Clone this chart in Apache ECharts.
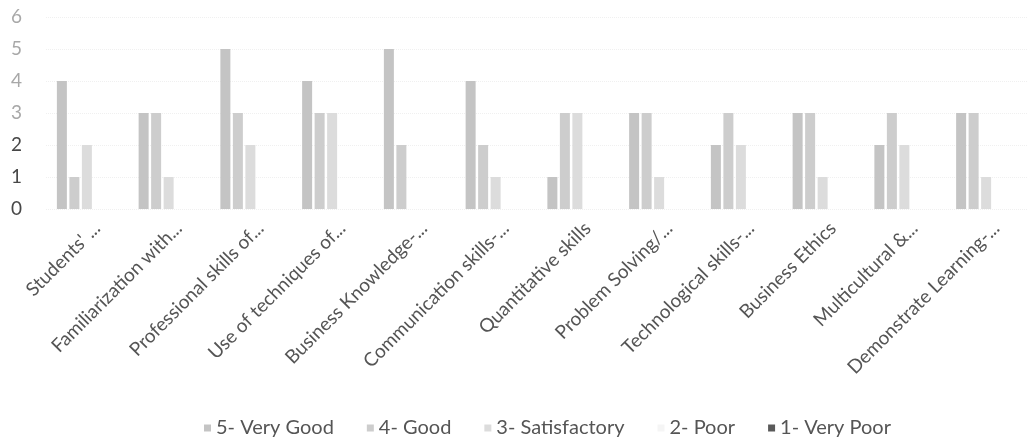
<!DOCTYPE html>
<html>
<head>
<meta charset="utf-8">
<script src="https://cdn.jsdelivr.net/npm/echarts@6/dist/echarts.min.js"></script>
<style>html,body{margin:0;padding:0;background:#fff}#c{width:1027px;height:444px}</style>
</head>
<body>
<div id="c"></div>
<script>
const categories = ["Students' ...", "Familiarization with...", "Professional skills of...", "Use of techniques of...", "Business Knowledge-...", "Communication skills-...", "Quantitative skills", "Problem Solving/...", "Technological skills-...", "Business Ethics", "Multicultural &...", "Demonstrate Learning-..."];
const seriesNames = ["5- Very Good", "4- Good", "3- Satisfactory", "2- Poor", "1- Very Poor"];
const veryGood = [4, 3, 5, 4, 5, 4, 1, 3, 2, 3, 2, 3];
const good = [1, 3, 3, 3, 2, 2, 3, 3, 3, 3, 3, 3];
const satisfactory = [2, 1, 2, 3, 0, 1, 3, 1, 2, 1, 2, 1];
const poor = [0, 0, 0, 0, 0, 0, 0, 0, 0, 0, 0, 0];
const veryPoor = [0, 0, 0, 0, 0, 0, 0, 0, 0, 0, 0, 0];
const yTicks = [0, 1, 2, 3, 4, 5, 6];

const colors = ['#c4c4c4', '#cdcdcd', '#dcdcdc', '#f5f5f5', '#5a5a5a'];
const allData = [veryGood, good, satisfactory, poor, veryPoor];
const font = 'Lato, "Open Sans", sans-serif';

const chart = echarts.init(document.getElementById('c'));
chart.setOption({
  animation: false,
  textStyle: { fontFamily: font },
  grid: { left: 46, right: -27, top: 17, bottom: 235 },
  legend: {
    data: seriesNames,
    top: 413,
    left: 199,
    itemWidth: 7,
    itemHeight: 7,
    itemGap: 33,
    icon: 'rect',
    textStyle: { color: '#555', fontSize: 20, fontFamily: font }
  },
  xAxis: {
    type: 'category',
    data: categories,
    axisLine: { show: false },
    axisTick: { show: false },
    axisLabel: {
      rotate: 45, interval: 0, margin: 6,
      verticalAlign: 'top', padding: [5, 0, 0, 0],
      color: '#555', fontSize: 19, fontFamily: font
    }
  },
  yAxis: {
    type: 'value',
    min: yTicks[0],
    max: yTicks[yTicks.length - 1],
    interval: 1,
    axisLine: { show: false },
    axisTick: { show: false },
    axisLabel: {
      margin: 24, fontSize: 19, fontFamily: font,
      color: function (v) { return v >= 3 ? '#a8a8a8' : '#474747'; }
    },
    splitLine: { lineStyle: { color: '#f0f0f0', type: 'dotted' } }
  },
  series: seriesNames.map((n, i) => ({
    name: n,
    type: 'bar',
    data: allData[i],
    barWidth: 10,
    barGap: '25%',
    itemStyle: { color: colors[i] }
  }))
});
</script>
</body>
</html>
